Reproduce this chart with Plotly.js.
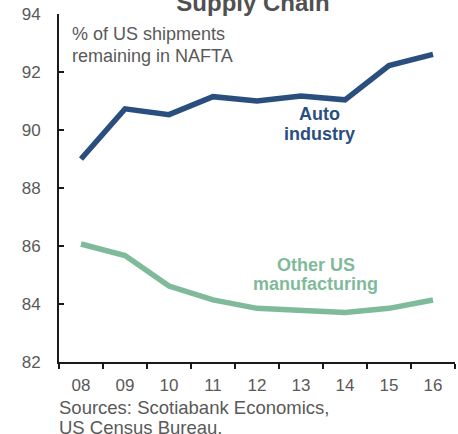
<!DOCTYPE html>
<html>
<head>
<meta charset="utf-8">
<script src="https://cdn.plot.ly/plotly-3.0.1.min.js"></script>
<style>html,body{margin:0;padding:0;background:#fff;}#chart{width:458px;height:434px;}</style>
</head>
<body>
<div id="chart"></div>
<script>
var years = ["08", "09", "10", "11", "12", "13", "14", "15", "16"];
var autoIndustry = [89.0, 90.73, 90.53, 91.15, 91.0, 91.17, 91.04, 92.22, 92.61];
var otherManufacturing = [86.07, 85.67, 84.62, 84.14, 83.85, 83.76, 83.71, 83.85, 84.14];
var yTicks = [82, 84, 86, 88, 90, 92, 94];

var blue = "#2a4f7f", green = "#7fbb9b", grey = "#595959";
var font = "Liberation Sans, Arial, sans-serif";

var traces = [
  {x: years, y: autoIndustry, type: "scatter", mode: "lines", line: {color: blue, width: 5.5}, hoverinfo: "skip"},
  {x: years, y: otherManufacturing, type: "scatter", mode: "lines", line: {color: green, width: 5.5}, hoverinfo: "skip"}
];

function note(text, x, y, anchor, size, color, bold) {
  return {text: bold ? "<b>" + text + "</b>" : text, xref: "paper", yref: "paper", x: x, y: y,
    xanchor: anchor, yanchor: "middle", showarrow: false,
    font: {family: font, size: size, color: color}};
}
function label(text, x, y, size, color) {
  return {text: "<b>" + text + "</b>", xref: "x", yref: "y", x: x, y: y,
    xanchor: "center", yanchor: "middle", showarrow: false,
    font: {family: font, size: size, color: color}};
}

var layout = {
  width: 458, height: 434,
  margin: {l: 59, r: 3, t: 14, b: 72},
  paper_bgcolor: "#fff", plot_bgcolor: "#fff",
  showlegend: false,
  font: {family: font, color: grey, size: 17},
  title: {text: "<b>Supply Chain</b>", font: {family: font, size: 24, color: "#505050"}, x: 0.5524, xanchor: "center", yref: "container", y: 0.9747, yanchor: "bottom"},
  xaxis: {
    type: "category", range: [-0.5, 8.5], tickson: "boundaries",
    showline: true, linecolor: "#1a1a1a", linewidth: 2,
    ticks: "outside", ticklen: 5, tickwidth: 1.5, tickcolor: "#1a1a1a",
    showgrid: false, zeroline: false,
    tickfont: {family: font, size: 17, color: grey}, ticklabelstandoff: 7
  },
  yaxis: {
    range: [82, 94], tickvals: yTicks, ticktext: yTicks.map(String),
    showline: true, linecolor: "#1a1a1a", linewidth: 2,
    ticks: "inside", ticklen: 5, tickwidth: 1.5, tickcolor: "#1a1a1a",
    showgrid: false, zeroline: false,
    tickfont: {family: font, size: 17, color: grey}, ticklabelstandoff: 13
  },
  annotations: [
    note("% of US shipments", 0.027, 0.9411, "left", 18, grey, false),
    note("remaining in NAFTA", 0.027, 0.8779, "left", 18, grey, false),
    label("Auto", 5.43, 90.55, 18, blue),
    label("industry", 5.43, 89.85, 18, blue),
    label("Other US", 5.34, 85.35, 18, green),
    label("manufacturing", 5.34, 84.69, 18, green),
    note("Sources: Scotiabank Economics,", -0.005, -0.1307, "left", 18.5, grey, false),
    note("US Census Bureau.", -0.005, -0.1882, "left", 18.5, grey, false)
  ]
};

Plotly.newPlot("chart", traces, layout, {displayModeBar: false, staticPlot: true});
</script>
</body>
</html>
